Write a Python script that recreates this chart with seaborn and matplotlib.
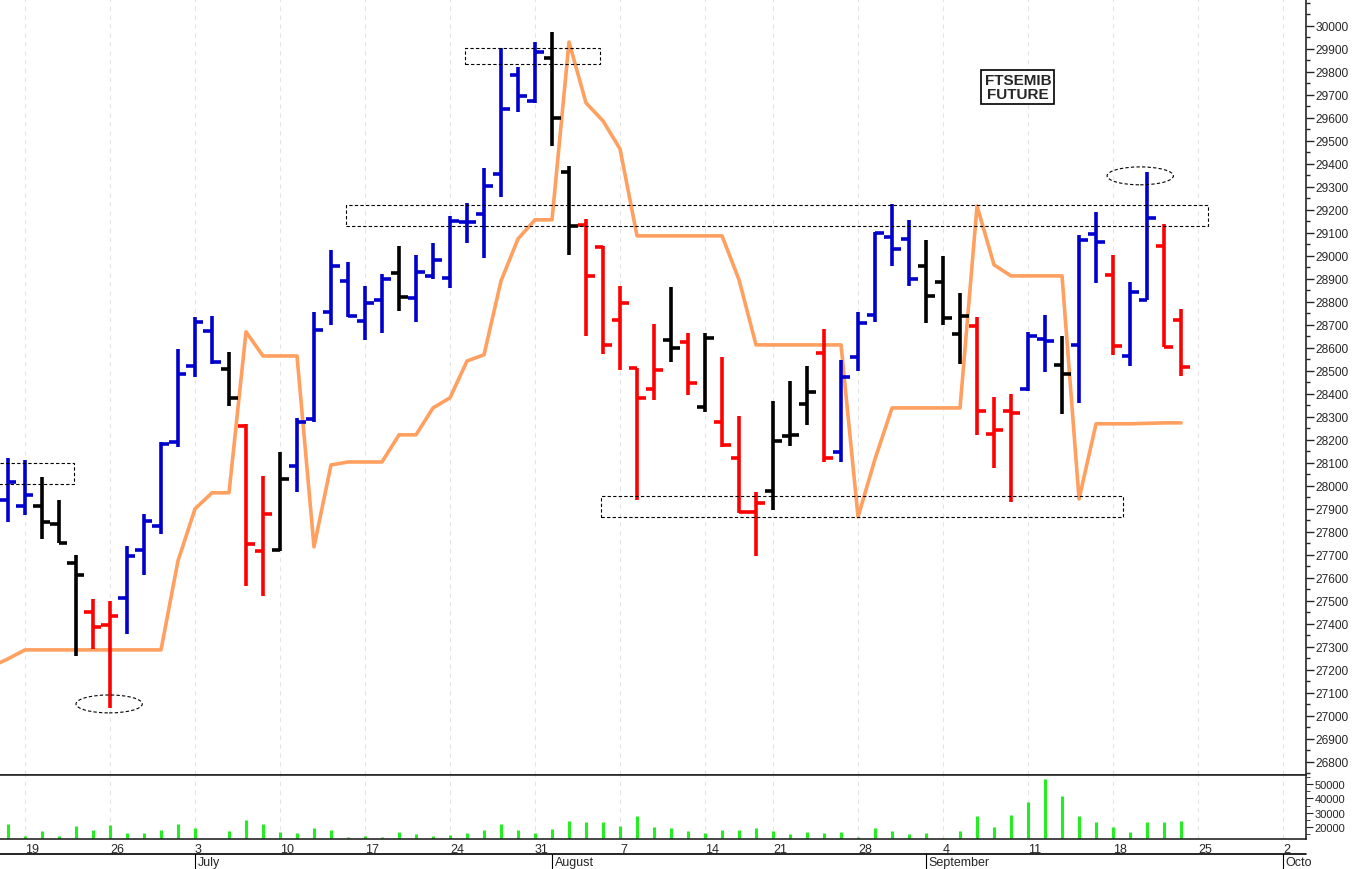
import numpy as np
import pandas as pd
import matplotlib
matplotlib.use("Agg")
import matplotlib.pyplot as plt
import seaborn as sns
from matplotlib.patches import Rectangle, Ellipse

# daily bars, 16 Jun .. 22 Sep (15 Aug holiday)
dates = [d for d in pd.bdate_range("2023-06-16", "2023-09-22") if d != pd.Timestamp("2023-08-15")]

opens = [27939, 27913, 27913, 27835, 27665, 27452, 27396, 27513, 27722, 27826,
         28190, 28522, 28674, 28509, 28260, 27717, 27722, 28087, 28291, 28757,
         28891, 28717, 28809, 28926, 28817, 28913, 28904, 29148, 29183, 29357,
         29787, 29674, 29861, 29365, 29135, 29039, 28722, 28513, 28422, 28635,
         28626, 28343, 28278, 28122, 27887, 27978, 28217, 28357, 28578, 28148,
         28561, 28743, 29083, 29074, 28957, 28887, 28661, 28696, 28226, 28326,
         28422, 28639, 28526, 28613, 29096, 28917, 28565, 28809, 29043, 28722]
highs = [28122, 28113, 28039, 27939, 27700, 27509, 27500, 27739, 27878, 28191,
         28596, 28735, 28739, 28583, 28270, 28043, 28148, 28296, 28757, 29026,
         28974, 28870, 28922, 29043, 29004, 29057, 29174, 29230, 29383, 29904,
         29822, 29930, 29974, 29391, 29161, 29043, 28870, 28513, 28704, 28865,
         28665, 28665, 28561, 28304, 27974, 28370, 28457, 28522, 28683, 28548,
         28757, 29104, 29226, 29157, 29070, 29000, 28839, 28735, 28387, 28400,
         28670, 28743, 28652, 29091, 29191, 29004, 28887, 29365, 29139, 28770]
lows = [27843, 27874, 27770, 27752, 27261, 27290, 27035, 27357, 27613, 27791,
        28170, 28474, 28530, 28348, 27565, 27522, 27717, 27974, 28278, 28700,
        28735, 28635, 28665, 28761, 28713, 28900, 28861, 29057, 28991, 29257,
        29626, 29665, 29478, 29004, 28652, 28574, 28504, 27939, 28374, 28539,
        28396, 28322, 28170, 27883, 27696, 27896, 28174, 28265, 28104, 28104,
        28500, 28713, 28957, 28870, 28709, 28700, 28530, 28222, 28078, 27930,
        28413, 28496, 28313, 28361, 28883, 28570, 28522, 28809, 28604, 28478]
closes = [28017, 27961, 27843, 27752, 27613, 27387, 27435, 27696, 27848, 28183,
          28487, 28713, 28539, 28383, 27748, 27878, 28030, 28278, 28678, 28957,
          28739, 28796, 28900, 28822, 28930, 28983, 29152, 29148, 29304, 29639,
          29696, 29887, 29600, 29130, 28913, 28613, 28796, 28383, 28504, 28600,
          28448, 28643, 28178, 27887, 27926, 28196, 28222, 28409, 28122, 28474,
          28709, 29100, 29030, 28900, 28826, 28730, 28739, 28326, 28243, 28317,
          28652, 28630, 28487, 29070, 29061, 28609, 28843, 29165, 28604, 28517]
colors = list("bbkkkrrbbb" "bbbkrrkbbb" "bbbkbbbbbb" "bbkkrrrrrk" "rkrrrkkkrb"
              "bbbbkkkrrr" "bbkbbrbbrr")

stop_line = [27248, 27287, 27287, 27287, 27287, 27287, 27287, 27287, 27287, 27287,
             27674, 27900, 27970, 27970, 28670, 28565, 28565, 28565, 27735, 28091,
             28104, 28104, 28104, 28222, 28222, 28339, 28383, 28543, 28570, 28891,
             29074, 29157, 29157, 29930, 29665, 29587, 29465, 29087, 29087, 29087,
             29087, 29087, 29087, 28896, 28613, 28613, 28613, 28613, 28613, 28613,
             27865, 28117, 28339, 28339, 28339, 28339, 28339, 29217, 28961, 28913,
             28913, 28913, 28913, 27943, 28270, 28270, 28270, 28272, 28274, 28274]

volume = [22000, 13600, 17000, 14000, 20500, 18000, 21700, 16000, 16000, 17600,
          22400, 19000, 11000, 17000, 25000, 22000, 16700, 15700, 19500, 17600,
          13000, 13800, 13300, 16700, 15000, 13800, 14500, 15700, 17600, 22000,
          17600, 15700, 18800, 24000, 23300, 23300, 20500, 27600, 19800, 19500,
          17000, 16000, 18000, 18000, 19500, 17000, 14800, 16400, 16000, 16700,
          13300, 19500, 17400, 15200, 15700, 12000, 17000, 27600, 19800, 28300,
          37400, 53300, 42000, 27600, 23300, 19800, 16700, 23300, 23300, 24000]

col_map = {"b": "#0000cc", "r": "#ff0000", "k": "#000000"}

df = pd.DataFrame({"date": dates, "open": opens, "high": highs, "low": lows,
                   "close": closes, "color": colors, "stop": stop_line, "volume": volume})
df["x"] = np.arange(len(df)) - 1  # 19 Jun is x = 0

sns.set_style("white")
plt.rcParams["font.family"] = ["Liberation Sans", "DejaVu Sans"]

fig = plt.figure(figsize=(13.52, 8.7), dpi=100)
ax = fig.add_axes([0, 1 - 776 / 870, 1306 / 1352, 776 / 870])
axv = fig.add_axes([0, 1 - 840 / 870, 1306 / 1352, 64 / 870], sharex=ax)

x0, x1 = -1.47, 75.35
ax.set_xlim(x0, x1)
ax.set_ylim(26743, 30117)
axv.set_ylim(11600, 56400)

# weekly grid on Mondays (trading-day index)
all_days = [d for d in pd.bdate_range("2023-06-16", "2023-10-06") if d != pd.Timestamp("2023-08-15")]
day_x = {d: i - 1 for i, d in enumerate(all_days)}
mondays = [d for d in all_days if d.weekday() == 0]
for a in (ax, axv):
    for m in mondays:
        a.axvline(day_x[m], color="#e4e4e4", lw=0.8, ls=(0, (4, 4)), zorder=0)

# orange stop line
sns.lineplot(x=[-2.5] + list(df["x"]), y=[27196] + list(df["stop"]), ax=ax,
             color="#ffa060", lw=2.6, zorder=2)

# OHLC bars
for _, r in df.iterrows():
    c = col_map[r["color"]]
    ax.vlines(r["x"], r["low"], r["high"], color=c, lw=2.6, zorder=3)
    ax.hlines(r["open"], r["x"] - 0.5, r["x"], color=c, lw=2.6, zorder=3)
    ax.hlines(r["close"], r["x"], r["x"] + 0.5, color=c, lw=2.6, zorder=3)

# annotations
boxes = [(-1.6, 28009, 4.5, 91), (25.9, 29835, 7.9, 69),
         (18.9, 29130, 50.7, 92), (33.9, 27865, 30.7, 92)]
for bx, by, bw, bh in boxes:
    ax.add_patch(Rectangle((bx, by), bw, bh, fill=False, ls=(0, (3, 2)), lw=0.8,
                           ec="black", zorder=4))
for ex, ey in [(4.95, 27052), (65.6, 29348)]:
    ax.add_patch(Ellipse((ex, ey), 3.9, 78, fill=False, ls=(0, (3, 2)), lw=0.8,
                         ec="black", zorder=4))
ax.text(58.4, 29735, "FTSEMIB\nFUTURE", ha="center", va="center", fontsize=11,
        fontweight="bold", linespacing=0.95,
        bbox=dict(boxstyle="square,pad=0.2", fc="white", ec="black", lw=1.2))

# price axis
ax.yaxis.tick_right()
ax.set_yticks(np.arange(26800, 30001, 100))
ax.set_yticks(np.arange(26750, 30101, 50), minor=True)
ax.tick_params(axis="y", which="major", length=6, width=1, labelsize=8.6, pad=1, direction="out")
ax.tick_params(axis="y", which="minor", length=3, width=1, direction="out")
ax.tick_params(axis="x", bottom=False, labelbottom=False)
for s in ["top", "left"]:
    ax.spines[s].set_visible(False)
ax.spines["right"].set_linewidth(1.2)
ax.spines["bottom"].set_linewidth(1.2)

# volume panel
axv.vlines(df["x"], 0, df["volume"], color="#22ee22", lw=2.2)
axv.yaxis.tick_right()
axv.set_yticks([20000, 30000, 40000, 50000])
axv.set_yticks(np.arange(15000, 56000, 5000), minor=True)
axv.tick_params(axis="y", which="major", length=5, labelsize=8, pad=1)
axv.tick_params(axis="y", which="minor", length=3)
axv.spines["left"].set_visible(False)
axv.spines["top"].set_linewidth(1.2)
axv.spines["bottom"].set_linewidth(1.2)
axv.spines["right"].set_linewidth(1.2)
axv.set_xticks([day_x[m] for m in mondays])
axv.set_xticklabels([str(m.day) for m in mondays])
axv.tick_params(axis="x", length=0, labelsize=9, pad=3)
for lbl in axv.get_xticklabels():
    lbl.set_horizontalalignment("left")
axv.set_xlim(x0, x1)

# month strip
fig.add_artist(plt.Line2D([0, 1306 / 1352], [1 - 855 / 870] * 2, color="black", lw=1.2))
months = [("July", pd.Timestamp("2023-07-03")), ("August", pd.Timestamp("2023-08-01")),
          ("September", pd.Timestamp("2023-09-01")), ("Octo", pd.Timestamp("2023-10-02"))]
to_fig = lambda v: (v - x0) / (x1 - x0) * 1306 / 1352
for name, d in months:
    xf = to_fig(day_x[d])
    fig.add_artist(plt.Line2D([xf, xf], [0, 1 - 855 / 870], color="black", lw=0.8))
    fig.text(xf + 0.002, 1 - 863 / 870, name, fontsize=9, va="center", ha="left")

fig.savefig("out.png", dpi=100, facecolor="white")
